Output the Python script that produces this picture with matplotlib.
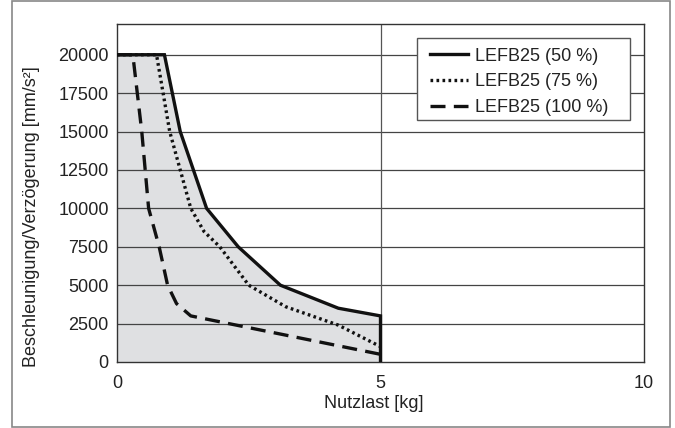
import matplotlib
matplotlib.use("Agg")
import matplotlib.pyplot as plt
from matplotlib.patches import Rectangle

plt.rcParams['font.family'] = ['Liberation Sans', 'DejaVu Sans']

# 50 % curve (outline of the shaded area)
x50 = [0, 0.9, 1.2, 1.7, 2.3, 3.1, 4.2, 5, 5]
y50 = [20000, 20000, 15000, 10000, 7500, 5000, 3500, 3000, 0]

# 75 % curve
x75 = [0, 0.75, 1.0, 1.2, 1.4, 1.65, 1.95, 2.5, 3.2, 4.2, 5]
y75 = [20000, 20000, 15000, 12500, 10000, 8500, 7500, 5000, 3600, 2400, 1000]

# 100 % curve
x100 = [0, 0.3, 0.47, 0.6, 0.8, 0.96, 1.13, 1.4, 5]
y100 = [20000, 20000, 15000, 10000, 7500, 5000, 3800, 3000, 500]

labels = ['LEFB25 (50 %)', 'LEFB25 (75 %)', 'LEFB25 (100 %)']
yticks = list(range(0, 20001, 2500))
xticks = [0, 5, 10]

txt = '#222222'

fig = plt.figure(figsize=(6.75, 4.28), dpi=100)
ax = fig.add_axes([117 / 675, 66 / 428, 527 / 675, 338 / 428])

ax.fill_between(x50, y50, 0, color='#dfe0e2', lw=0, zorder=1)

for y in yticks[1:]:
    ax.axhline(y, color='#444444', lw=0.9, zorder=2)
ax.axvline(5, color='#555555', lw=0.9, zorder=2)

ax.plot(x50, y50, color='#111111', lw=2.4, solid_joinstyle='miter', zorder=4, label=labels[0])
ax.plot(x75, y75, color='#111111', lw=2.4, linestyle=(0, (0.8, 1.0)), zorder=4, label=labels[1])
ax.plot(x100, y100, color='#111111', lw=2.4, linestyle=(0, (4.5, 2.5)), zorder=4, label=labels[2])

ax.set_xlim(0, 10)
ax.set_ylim(0, 22000)
ax.set_xticks(xticks)
ax.set_yticks(yticks)
ax.tick_params(length=0, labelsize=13, labelcolor=txt)
ax.tick_params(axis='y', pad=6)
ax.tick_params(axis='x', pad=9)
for s in ax.spines.values():
    s.set_color('#333333')
    s.set_linewidth(1.0)

ax.set_xlabel('Nutzlast [kg]', fontsize=13, color=txt)
ax.xaxis.set_label_coords(0.488, -0.098)
ax.set_ylabel('Beschleunigung/Verzögerung [mm/s²]', fontsize=13, color=txt)
ax.yaxis.set_label_coords(-0.146, 0.429)

# legend box drawn separately so its padding can follow the reference
ax.add_patch(Rectangle((0.569, 0.716), 0.404, 0.243, transform=ax.transAxes,
                       facecolor='white', edgecolor='#555555', lw=1.0, zorder=5))
leg = ax.legend(loc='upper left', bbox_to_anchor=(0.594, 0.930), fontsize=13,
                handlelength=2.1, handletextpad=0.4, borderpad=0,
                labelspacing=0.48, frameon=False, borderaxespad=0)
leg.set_zorder(6)
for t in leg.get_texts():
    t.set_color(txt)

fig.patches.append(Rectangle((12 / 675, 1 / 428), 658 / 675, 426 / 428,
                             transform=fig.transFigure, fill=False,
                             edgecolor='#888888', lw=1.2))

fig.savefig('out.png', dpi=100)
